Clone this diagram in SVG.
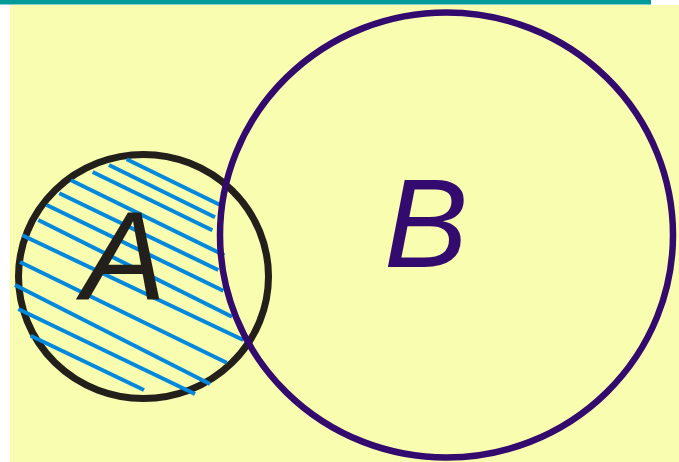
<svg xmlns="http://www.w3.org/2000/svg" width="679" height="462" viewBox="0 0 679 462">
<style>
.hatch line{stroke:#0088DD;stroke-width:4;stroke-linecap:butt}
.lbl{font-family:"Liberation Sans",Arial,sans-serif;font-style:italic;font-size:126px}
</style>
<rect x="0" y="0" width="679" height="462" fill="#FFFFFF"/>
<rect x="10" y="5" width="669" height="457" fill="#F9FDB0"/>
<rect x="0" y="0" width="651" height="4.5" fill="#009B99"/>
<g id="A">
<ellipse cx="143.5" cy="276.5" rx="125" ry="122" fill="none" stroke="#231F1A" stroke-width="7"/>
<g class="hatch">
<line x1="126.7" y1="159.3" x2="220.7" y2="205.3"/>
<line x1="109" y1="165" x2="215" y2="217.3"/>
<line x1="92.7" y1="172" x2="212.3" y2="230.3"/>
<line x1="71" y1="180.3" x2="224.3" y2="255.3"/>
<line x1="59.3" y1="193.3" x2="218.3" y2="270"/>
<line x1="46.7" y1="205" x2="223.3" y2="290.7"/>
<line x1="38.3" y1="220" x2="232" y2="316.7"/>
<line x1="22.3" y1="235.3" x2="243.3" y2="340"/>
<line x1="20" y1="262" x2="226.7" y2="362.7"/>
<line x1="15" y1="285" x2="210" y2="384"/>
<line x1="18.3" y1="309" x2="195" y2="394"/>
<line x1="30.7" y1="335.7" x2="144" y2="390"/>
</g>
<text class="lbl" x="82" y="299" fill="#231F1A">A</text>
</g>
<g id="B">
<ellipse cx="446.5" cy="235" rx="226.5" ry="222.5" fill="none" stroke="#330A6E" stroke-width="6.5"/>
<text class="lbl" x="384" y="267" fill="#330A6E">B</text>
</g>
</svg>
